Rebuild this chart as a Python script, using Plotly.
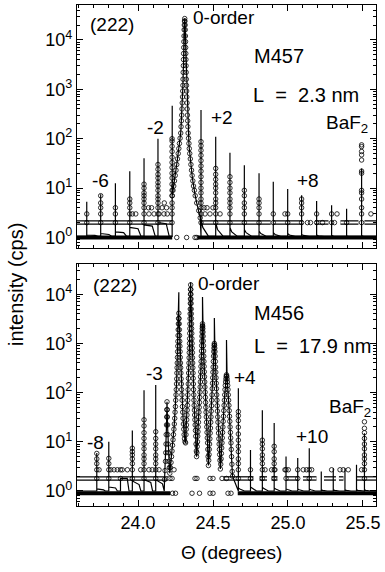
import plotly.graph_objects as go

FONT = "Liberation Sans, Arial, Helvetica, sans-serif"

# ---------------- axes ----------------
x_range = [23.593, 25.587]
y_ticks = [1, 10, 100, 1000, 10000]
y_ticktext = ["10<sup>0</sup>", "10<sup>1</sup>", "10<sup>2</sup>", "10<sup>3</sup>", "10<sup>4</sup>"]
yA_range_log = [-0.219, 4.706]
yB_range_log = [-0.305, 4.614]

# ================= TOP PANEL (M457) =================
A_base = 1.05
A_fit_ends_theta = [23.593, 25.587]
A_fit_pre_center = [24.2275, 1.05]
# satellites left of 0-order (-7 ... -2)
A_lsat_theta = [23.658, 23.751, 23.849, 23.945, 24.040, 24.133]
A_lsat_top = [5.3, 7.5, 12.5, 22, 40, 100]
A_lsat_tail0 = [1.12, 1.2, 1.3, 1.6, 1.8, 2.0]
A_lsat_tail1 = [1.1, 1.15, 1.25, 1.5, 1.7, 1.9]
# satellites right of 0-order (+1 ... +11, BaF2)
A_rsat_theta = [24.420, 24.518, 24.613, 24.709, 24.807, 24.902, 24.998, 25.091, 25.191, 25.291, 25.391, 25.491]
A_rsat_top = [380, 110, 52, 29, 20, 13.5, 9.6, 7.2, 5.5, 4.5, 3.8, 25]
A_rsat_tail0 = [2.3, 2.0, 1.6, 1.45, 1.35, 1.25, 1.2, 1.15, 1.12, 1.1, 1.08, 1.1]
A_rsat_tail1 = [1.6, 1.45, 1.3, 1.25, 1.2, 1.15, 1.12, 1.1, 1.08, 1.07, 1.06, 1.06]
# central (0-order) peak, measured points
A_center_theta = [24.2280, 24.2330, 24.2380, 24.2430, 24.2480, 24.2530, 24.2580, 24.2630, 24.2680, 24.2720,
                  24.2760, 24.2805, 24.2847, 24.2870, 24.2893, 24.2913, 24.2933, 24.2950, 24.2967, 24.2980,
                  24.2993, 24.3003, 24.3013, 24.3023, 24.3033, 24.3042, 24.3050, 24.3058, 24.3067, 24.3077,
                  24.3087, 24.3100, 24.3113,
                  24.3127, 24.3140, 24.3150, 24.3160, 24.3168, 24.3177, 24.3185, 24.3193, 24.3202, 24.3210,
                  24.3220, 24.3230, 24.3242, 24.3253, 24.3267, 24.3280, 24.3295, 24.3310, 24.3325, 24.3340,
                  24.3367, 24.3393, 24.3420, 24.3447, 24.3487, 24.3527, 24.3567, 24.3607, 24.3653, 24.3700,
                  24.3757, 24.3813, 24.3913, 24.4047, 24.4147]
A_center_I = [7, 9, 11, 14, 18, 23, 30, 39, 50, 63,
              80, 102, 130, 175, 230, 300, 400, 530, 700, 920,
              1200, 1600, 2200, 3000, 4000, 5300, 7000, 9200, 12000, 16000,
              20000, 24000, 27000,
              24000, 20000, 16000, 12000, 9200, 7000, 5300, 4000, 3000, 2200,
              1600, 1200, 920, 700, 530, 400, 300, 230, 175, 130,
              102, 80, 63, 50, 39, 30, 23, 18, 14, 11,
              9, 7, 5, 3.5, 2.5]
A_center_spike_theta = [24.2280]
A_center_spike_top = [465]
# vertical stacks of measured points at satellites
A_stack_theta = [23.658, 23.751, 23.849, 23.945, 24.040, 24.133, 24.227, 24.420, 24.518, 24.613,
                 24.709, 24.807, 24.902, 24.998, 25.091, 25.191, 25.291, 25.391, 25.491]
A_stacks = [
    [2, 3],
    [2, 3, 4, 5, 7],
    [2, 3, 4],
    [2, 3, 4, 5, 6],
    [2, 3, 4, 5, 6, 7, 8, 10, 12],
    [2, 3, 4, 5, 6, 7, 9, 11, 13, 16, 19, 24, 30],
    [2, 3, 4, 5, 7, 9, 12, 16, 20, 26, 33, 42, 55, 70, 90, 100],
    [2, 3, 4, 5, 6, 8, 10, 13, 17, 22, 28, 36, 46, 58, 72, 87],
    [2, 3, 4, 5, 6, 8, 10, 12, 15, 19, 25],
    [2, 3, 4, 5, 6, 8, 10, 13, 17],
    [2, 3, 4, 5, 7, 9],
    [2, 3, 4, 5, 6],
    [2, 3],
    [2, 3],
    [2, 3, 4, 5, 6],
    [2, 3],
    [2, 3],
    [2],
    [2, 3, 4, 6, 8, 9, 20, 22, 37, 47, 55, 69, 75],
]
# dense rows of low-count readings (start, end, level)
A_row_start = [23.593, 24.395, 23.593, 24.420, 24.900, 25.180, 25.350, 25.510]
A_row_end = [24.228, 25.587, 24.227, 24.885, 25.100, 25.270, 25.470, 25.587]
A_row_level = [1, 1, 2, 2, 2, 2, 2, 2]
# scattered single readings
A_sparse_theta = [24.258, 24.324, 24.380, 24.392,
                  23.962, 23.985, 24.073, 24.107, 24.140, 24.173, 24.195,
                  24.447, 24.480, 24.547, 24.980, 25.327, 25.553,
                  24.070, 24.090, 24.160, 24.175, 24.190, 24.440, 24.460, 24.500,
                  25.130, 25.150, 25.230, 25.310]
A_sparse_I = [1, 1, 1, 1,
              3, 3, 3, 3, 3, 3, 3,
              3, 3, 3, 3, 3, 3,
              4, 4, 4, 5, 4, 4, 4, 4,
              2, 2, 2, 2]

# ================= BOTTOM PANEL (M456) =================
B_base = 1.0
B_fit_ends_theta = [23.593, 25.587]
B_lsat_theta = [23.725, 23.805, 23.883, 23.962, 24.040, 24.118]
B_lsat_top = [5.9, 10, 1.8, 17, 112, 142]
B_lsat_tail0 = [1.1, 1.2, 1.8, 1.6, 1.7, 1.7]
B_lsat_tail1 = [1.05, 1.15, 1.8, 1.35, 1.5, 1.4]
B_rsat_theta = [24.669, 24.750, 24.829, 24.908, 24.987, 25.065, 25.142, 25.222, 25.302, 25.380, 25.457, 25.510]
B_rsat_top = [122, 6.8, 44, 24, 5, 4.7, 7.4, 2.5, 2.9, 2.9, 3.4, 15]
B_rsat_tail0 = [1.15, 1.2, 1.2, 1.15, 1.1, 1.1, 1.1, 1.05, 1.05, 1.05, 1.05, 1.05]
B_rsat_tail1 = [1.1, 1.15, 1.12, 1.1, 1.07, 1.06, 1.06, 1.03, 1.03, 1.03, 1.03, 1.03]
B_center_theta = [
    24.1767, 24.1800, 24.1833, 24.1850, 24.1867, 24.1880, 24.1900, 24.1913, 24.1923, 24.1933,
    24.1947, 24.1957, 24.1967, 24.1985, 24.2000, 24.2025, 24.2053, 24.2090, 24.2120,
    24.2160, 24.2200, 24.2235, 24.2267, 24.2300, 24.2333, 24.2363, 24.2393, 24.2420, 24.2447,
    24.2470, 24.2493, 24.2513, 24.2533, 24.2550, 24.2567, 24.2580, 24.2593, 24.2605, 24.2617,
    24.2628, 24.2640, 24.2650, 24.2660, 24.2670, 24.2680, 24.2693, 24.2707, 24.2720,
    24.2733, 24.2745, 24.2757, 24.2768, 24.2780, 24.2792, 24.2803, 24.2817, 24.2830, 24.2843,
    24.2858, 24.2873, 24.2890, 24.2907, 24.2923, 24.2940, 24.2960, 24.2980, 24.3003, 24.3027,
    24.3050, 24.3073, 24.3100, 24.3135, 24.3170,
    24.3197, 24.3213, 24.3230, 24.3247, 24.3263, 24.3280, 24.3297, 24.3310, 24.3323, 24.3337,
    24.3350, 24.3362, 24.3373, 24.3385, 24.3397, 24.3407, 24.3417, 24.3425, 24.3433, 24.3442,
    24.3450, 24.3457, 24.3463, 24.3470, 24.3477, 24.3483, 24.3490, 24.3495, 24.3500, 24.3505,
    24.3510,
    24.3517, 24.3523, 24.3530, 24.3537, 24.3543, 24.3550, 24.3558, 24.3567, 24.3575, 24.3583,
    24.3593, 24.3603, 24.3613, 24.3623, 24.3633, 24.3643, 24.3655, 24.3667, 24.3678, 24.3690,
    24.3703, 24.3717, 24.3730, 24.3743, 24.3760, 24.3777, 24.3793, 24.3810, 24.3830, 24.3850,
    24.3870, 24.3890, 24.3905,
    24.3925, 24.3947, 24.3965, 24.3980, 24.3997, 24.4013, 24.4030, 24.4047, 24.4063, 24.4080,
    24.4097, 24.4113, 24.4128, 24.4143, 24.4157, 24.4170, 24.4183, 24.4197, 24.4208, 24.4220,
    24.4232, 24.4243, 24.4253, 24.4263, 24.4273, 24.4283, 24.4292, 24.4300,
    24.4310, 24.4320, 24.4330, 24.4340, 24.4350, 24.4360, 24.4372, 24.4383, 24.4395, 24.4407,
    24.4420, 24.4433, 24.4447, 24.4460, 24.4475, 24.4490, 24.4505, 24.4520, 24.4537, 24.4553,
    24.4570, 24.4587, 24.4603, 24.4620, 24.4637, 24.4653, 24.4673, 24.4693,
    24.4715, 24.4737, 24.4753, 24.4770, 24.4790, 24.4810, 24.4830, 24.4850, 24.4867, 24.4883,
    24.4900, 24.4917, 24.4933, 24.4950, 24.4965, 24.4980, 24.4995, 24.5010, 24.5023, 24.5037,
    24.5050, 24.5063, 24.5077, 24.5090,
    24.5103, 24.5117, 24.5130, 24.5143, 24.5157, 24.5170, 24.5185, 24.5200, 24.5215, 24.5230,
    24.5247, 24.5263, 24.5280, 24.5297, 24.5313, 24.5330, 24.5350, 24.5370, 24.5390, 24.5410,
    24.5427, 24.5443, 24.5465, 24.5490,
    24.5515, 24.5540, 24.5560, 24.5580, 24.5600, 24.5620, 24.5640, 24.5660, 24.5680, 24.5700,
    24.5720, 24.5740, 24.5760, 24.5780, 24.5800, 24.5820, 24.5840, 24.5860, 24.5880, 24.5900,
    24.5920, 24.5940, 24.5960, 24.5980, 24.6000, 24.6020, 24.6040, 24.6060, 24.6080, 24.6100,
    24.6120, 24.6140, 24.6160, 24.6180, 24.6200, 24.6220, 24.6240, 24.6260, 24.6280, 24.6300]
B_center_I = [
    1.7, 2.6, 4, 6, 9, 14, 22, 32, 45, 65,
    45, 32, 22, 14, 9, 6, 4, 3, 2.3,
    3, 3.8, 5, 6.5, 8.5, 11, 14, 18, 23, 30,
    40, 52, 70, 90, 115, 150, 190, 250, 320, 400,
    520, 680, 880, 1100, 1450, 1900, 2500, 3200, 4100,
    3200, 2500, 1900, 1450, 1100, 880, 680, 520, 400, 320,
    250, 190, 150, 115, 90, 70, 52, 40, 30, 23,
    18, 14, 11.5, 10, 9.5,
    14, 18, 22, 28, 35, 44, 55, 70, 90, 115,
    150, 195, 250, 320, 400, 510, 650, 800, 1000, 1250,
    1600, 2000, 2500, 3200, 4000, 5000, 6500, 8000, 10000, 12500,
    15500,
    12500, 10000, 8000, 6500, 5000, 4000, 3200, 2500, 2000, 1600,
    1250, 1000, 800, 650, 510, 400, 320, 250, 195, 150,
    115, 90, 70, 55, 44, 35, 28, 22, 17, 13,
    9, 6.5, 5,
    6, 8, 10, 13, 16, 20, 25, 32, 40, 50,
    63, 80, 102, 130, 165, 210, 265, 340, 430, 550,
    700, 900, 1120, 1400, 1700, 2000, 2250, 2500,
    2250, 2000, 1700, 1400, 1120, 900, 700, 550, 430, 340,
    265, 210, 165, 130, 102, 80, 63, 50, 40, 32,
    25, 20, 15.5, 12, 9.5, 7, 5, 3.3,
    4.2, 5.5, 7, 9, 11.5, 15, 19, 25, 32, 42,
    54, 70, 90, 120, 155, 200, 260, 330, 430, 550,
    680, 800, 920, 1000,
    920, 800, 680, 550, 430, 330, 260, 200, 155, 120,
    90, 70, 54, 42, 32, 25, 19, 15, 11.5, 9,
    7, 5.5, 4.2, 2.8,
    3.5, 4.5, 5.8, 7.5, 9.5, 12, 15.5, 20, 26, 33,
    43, 55, 70, 90, 115, 140, 165, 190, 215, 230,
    215, 190, 165, 140, 115, 90, 70, 55, 43, 33,
    26, 20, 15.5, 12, 9.5, 7, 5, 3.5, 2.5, 2.0]
B_center_spike_theta = [24.2720, 24.3510, 24.4300, 24.5090, 24.5900]
B_center_spike_top = [11000, 17500, 8800, 3300, 1170]
B_stack_theta = [23.725, 23.805, 23.883, 23.962, 24.040, 24.118, 24.669, 24.750, 24.829,
                 24.908, 24.987, 25.065, 25.142, 25.510]
B_stacks = [
    [1.8, 2.7, 3.6, 4.5, 5.8],
    [1.8, 2.7, 3.6, 4.6],
    [1.8, 2.7],
    [1.8, 2.7, 3.6, 4.5, 5.4, 6.3, 7.4],
    [1.8, 2.7, 3.6, 4.5, 5.4, 7.2, 9, 11.7, 15.3, 21, 28],
    [1.8, 2.7, 3.6, 4.5, 5.4, 7.2, 9, 11.7, 16],
    [1.8, 2.7, 3.6, 4.5, 6.3, 8.1, 10.8, 14.4, 19.8, 27, 34, 41],
    [1.8, 2.7],
    [1.8, 2.7, 3.6, 4.5, 5.4, 7.2, 9, 10.8],
    [1.8, 2.7, 3.6, 4.5, 6.3, 8.1],
    [1.8, 2.7],
    [1.8, 2.7],
    [1.8, 2.7],
    [1.8, 2.7, 3.6, 4.5, 5.4, 7.2, 9, 11.7, 15.3, 18.8, 25.5],
]
B_row_start = [23.593, 24.665, 23.593, 24.570, 24.810, 24.890, 24.990, 25.100, 25.240, 25.340, 25.460]
B_row_end = [24.215, 25.587, 24.200, 24.770, 24.860, 24.930, 25.070, 25.190, 25.320, 25.370, 25.587]
B_row_level = [0.9, 0.9, 1.8, 1.8, 1.8, 1.8, 1.8, 1.8, 1.8, 1.8, 1.8]
B_sparse_theta = [24.230, 24.250, 24.360, 24.410, 24.480, 24.500, 24.600, 24.620,
                  24.213, 24.227, 24.380, 24.393, 24.480, 24.500, 24.560, 24.590,
                  23.740, 23.818, 23.840, 23.862, 23.895, 23.929, 24.018, 24.073, 24.095, 24.140, 24.240,
                  24.847, 24.891, 24.913, 24.980, 25.002, 25.102, 25.124, 25.158, 25.291, 25.347, 25.369,
                  25.402, 25.491]
B_sparse_I = [0.9, 0.9, 0.9, 0.9, 0.9, 0.9, 0.9, 0.9,
              1.8, 1.8, 1.8, 1.8, 1.8, 1.8, 1.8, 1.8,
              2.7, 2.7, 2.7, 2.7, 2.7, 2.7, 2.7, 2.7, 2.7, 2.7, 2.7,
              2.7, 2.7, 2.7, 2.7, 2.7, 2.7, 2.7, 2.7, 2.7, 2.7, 2.7,
              2.7, 2.7]


# ---------------- helpers ----------------
def spike_path(thetas, tops, t0, t1, base, d1, d2):
    xs, ys = [], []
    for t, h, a, b in zip(thetas, tops, t0, t1):
        xs += [t, t, t, t + d1, t + d2]
        ys += [base, h, a, b, base]
    return xs, ys


def center_path(ct, ci, st, sh):
    xs, ys = [], []
    for t, v in zip(ct, ci):
        xs.append(t)
        ys.append(v)
        for s, h in zip(st, sh):
            if abs(s - t) < 1e-6:
                xs += [t, t]
                ys += [h, v]
    return xs, ys


def expand_stacks(thetas, stacks):
    xs, ys = [], []
    for t, vals in zip(thetas, stacks):
        xs += [t] * len(vals)
        ys += list(vals)
    return xs, ys


def row_segments(starts, ends, levels, pick):
    xs, ys = [], []
    for a, b, lv in zip(starts, ends, levels):
        if pick(lv):
            xs += [a, b, None]
            ys += [lv, lv, None]
    return xs, ys


fig = go.Figure()
marker = dict(symbol="circle-open", size=4.5, color="black", line=dict(width=0.8, color="black"))


def add_panel(xa, ya, base, ends, lsat, rsat, d_left, d_right, pre_center,
              ct, ci, sth, stp, stack_t, stacks, rows, sparse_t, sparse_i, lo_level):
    # dense low-count rows: lowest row nearly solid, second row a chain of circles (hollow band)
    rx, ry = row_segments(*rows, lambda v: v <= lo_level)
    fig.add_trace(go.Scatter(x=rx, y=ry, mode="lines", line=dict(color="black", width=4),
                             xaxis=xa, yaxis=ya, hoverinfo="skip"))
    rx, ry = row_segments(*rows, lambda v: v > lo_level)
    fig.add_trace(go.Scatter(x=rx, y=ry, mode="lines", line=dict(color="black", width=4.5),
                             xaxis=xa, yaxis=ya, hoverinfo="skip"))
    fig.add_trace(go.Scatter(x=rx, y=ry, mode="lines", line=dict(color="white", width=2),
                             xaxis=xa, yaxis=ya, hoverinfo="skip"))
    # fit line
    fx, fy = [ends[0]], [base]
    lx, ly = spike_path(*lsat, base, d_left[0], d_left[1])
    fx += lx
    fy += ly
    if pre_center is not None:
        fx.append(pre_center[0])
        fy.append(pre_center[1])
    cx, cy = center_path(ct, ci, sth, stp)
    fx += cx
    fy += cy
    rx2, ry2 = spike_path(*rsat, base, d_right[0], d_right[1])
    fx += rx2
    fy += ry2
    fx.append(ends[1])
    fy.append(base)
    fig.add_trace(go.Scatter(x=fx, y=fy, mode="lines", line=dict(color="black", width=1.2),
                             xaxis=xa, yaxis=ya, hoverinfo="skip"))
    # measured points
    sx, sy = expand_stacks(stack_t, stacks)
    fig.add_trace(go.Scatter(x=sx + list(ct) + list(sparse_t), y=sy + list(ci) + list(sparse_i),
                             mode="markers", marker=marker, xaxis=xa, yaxis=ya, hoverinfo="skip"))


add_panel("x", "y", A_base, A_fit_ends_theta,
          (A_lsat_theta, A_lsat_top, A_lsat_tail0, A_lsat_tail1),
          (A_rsat_theta, A_rsat_top, A_rsat_tail0, A_rsat_tail1),
          (0.055, 0.075), (0.012, 0.05), A_fit_pre_center,
          A_center_theta, A_center_I, A_center_spike_theta, A_center_spike_top,
          A_stack_theta, A_stacks, (A_row_start, A_row_end, A_row_level),
          A_sparse_theta, A_sparse_I, 1.5)

add_panel("x2", "y2", B_base, B_fit_ends_theta,
          (B_lsat_theta, B_lsat_top, B_lsat_tail0, B_lsat_tail1),
          (B_rsat_theta, B_rsat_top, B_rsat_tail0, B_rsat_tail1),
          (0.045, 0.057), (0.01, 0.04), None,
          B_center_theta, B_center_I, B_center_spike_theta, B_center_spike_top,
          B_stack_theta, B_stacks, (B_row_start, B_row_end, B_row_level),
          B_sparse_theta, B_sparse_I, 1.2)

minor_y = [m * 10 ** e for e in range(-1, 5) for m in range(2, 10)]

common_x = dict(range=x_range, showline=True, linecolor="black", linewidth=1.2, mirror="ticks",
                ticks="inside", ticklen=6, tickwidth=1, tickcolor="black",
                tickmode="linear", tick0=24.0, dtick=0.5, tickformat=".1f",
                minor=dict(ticks="inside", ticklen=3, tickwidth=1, tickcolor="black", dtick=0.1, tick0=24.0),
                showgrid=False, zeroline=False,
                tickfont=dict(family=FONT, size=18, color="black"))
common_y = dict(type="log", showline=True, linecolor="black", linewidth=1.2, mirror="ticks",
                ticks="inside", ticklen=6, tickwidth=1, tickcolor="black",
                tickmode="array", tickvals=y_ticks, ticktext=y_ticktext,
                minor=dict(ticks="inside", ticklen=3, tickwidth=0.8, tickcolor="black",
                           tickmode="array", tickvals=minor_y),
                showgrid=False, zeroline=False,
                tickfont=dict(family=FONT, size=18, color="black"))

W, H = 385, 572
ML, MR, MT, MB = 77, 9, 5, 66
PW, PH = W - ML - MR, H - MT - MB


def px(xp):
    return (xp - ML) / PW


def py(yp):
    return (H - MB - yp) / PH


fig.update_layout(
    width=W, height=H, autosize=False,
    margin=dict(l=ML, r=MR, t=MT, b=MB, pad=0),
    paper_bgcolor="white", plot_bgcolor="white",
    showlegend=False,
    font=dict(family=FONT, size=18, color="black"),
    xaxis=dict(common_x, domain=[0, 1], anchor="y", showticklabels=False),
    yaxis=dict(common_y, domain=[py(248.3), 1], anchor="x", range=yA_range_log),
    xaxis2=dict(common_x, domain=[0, 1], anchor="y2", showticklabels=True),
    yaxis2=dict(common_y, domain=[0, py(264)], anchor="x2", range=yB_range_log),
)

NB = "\u00a0"
labels = [
    ("(222)", 112, 24, "center", 19),
    ("0-order", 191, 17.5, "left", 19),
    ("M457", 252, 56, "left", 20),
    ("L" + NB * 2 + "=" + NB * 2 + "2.3 nm", 251, 95, "left", 20),
    ("-2", 155.5, 127, "center", 19),
    ("+2", 209, 118, "left", 19),
    ("BaF<sub>2</sub>", 324, 124, "left", 19),
    ("-6", 100.5, 181, "center", 19),
    ("+8", 295, 181, "left", 19),
    ("(222)", 114.5, 285, "center", 19),
    ("0-order", 196, 283.5, "left", 19),
    ("M456", 252, 313, "left", 20),
    ("L" + NB * 2 + "=" + NB * 2 + "17.9 nm", 252, 346, "left", 20),
    ("-3", 154, 374, "center", 19),
    ("+4", 232, 377, "left", 19),
    ("BaF<sub>2</sub>", 327, 408, "left", 19),
    ("+10", 294, 436, "left", 19),
    ("-8", 95.5, 442, "center", 19),
]
for txt, xx, yy, anc, fs in labels:
    fig.add_annotation(text=txt, x=px(xx), y=py(yy), xref="paper", yref="paper",
                       xanchor=anc, yanchor="middle", showarrow=False,
                       font=dict(family=FONT, size=fs, color="black"))

fig.add_annotation(text="intensity (cps)", x=px(16), y=py(285), xref="paper", yref="paper",
                   xanchor="center", yanchor="middle", textangle=-90, showarrow=False,
                   font=dict(family=FONT, size=20, color="black"))
fig.add_annotation(text="\u0398 (degrees)", x=px(231), y=py(552), xref="paper", yref="paper",
                   xanchor="center", yanchor="middle", showarrow=False,
                   font=dict(family=FONT, size=19, color="black"))

fig.write_html("out.html")
